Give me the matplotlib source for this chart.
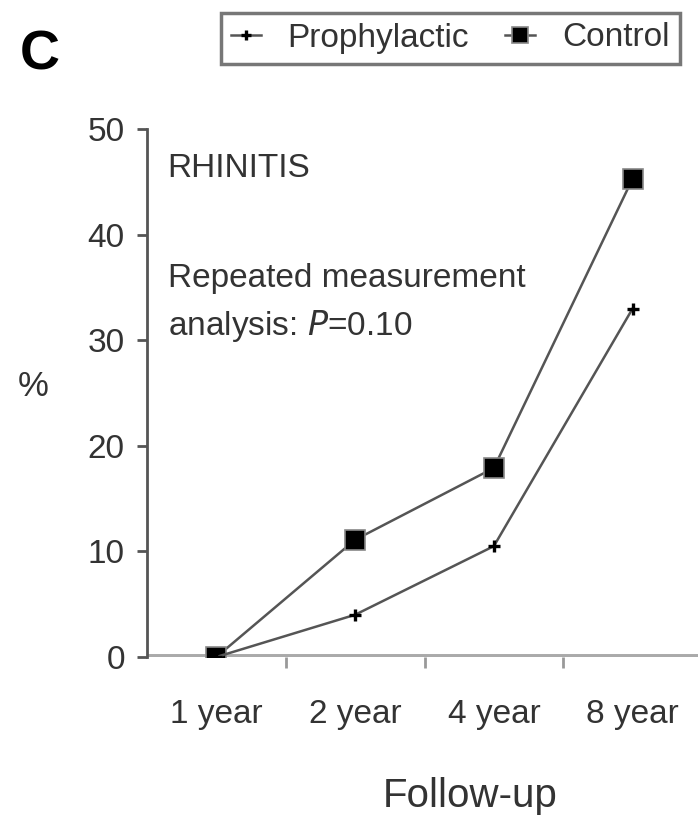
import matplotlib.pyplot as plt

plt.rcParams['font.family'] = ['Liberation Sans', 'DejaVu Sans']

categories = ["1 year", "2 year", "4 year", "8 year"]
prophylactic = [0.0, 4.0, 10.5, 33.0]
control = [0.0, 11.1, 17.9, 45.3]
yticks = [0, 10, 20, 30, 40, 50]

W, H = 698, 816
fig = plt.figure(figsize=(W / 100, H / 100), dpi=100)
ax = fig.add_axes([147 / W, 159 / H, 555 / W, 528 / H])


def fy(py):
    # pixel row from top -> figure fraction
    return 1 - py / H


x = list(range(len(categories)))
ax.plot(x, control, color='#555555', lw=1.8, marker='s', ms=15,
        mfc='black', mec='#888888', mew=1.2, label='Control', zorder=3)
ax.plot(x, prophylactic, color='#555555', lw=1.8, marker='+', ms=9,
        mec='black', mew=2.4, label='Prophylactic', zorder=3)

ax.axhline(0, color='#aaaaaa', lw=5, zorder=2)
ax.set_xlim(-0.5, 3.5)
ax.set_ylim(0, 50)
ax.set_yticks(yticks)
ax.set_yticklabels([str(v) for v in yticks], fontsize=24, color='#333333')
ax.set_xticks(x)
ax.set_xticklabels(categories, fontsize=24, color='#333333')
ax.set_xticks([0.5, 1.5, 2.5], minor=True)
ax.tick_params(axis='x', which='major', length=0, pad=30)
ax.tick_params(axis='x', which='minor', length=8, width=2, color='#999999', direction='out')
ax.tick_params(axis='y', length=7, width=2, color='#555555', direction='out', pad=9)

for s in ['top', 'right', 'bottom']:
    ax.spines[s].set_visible(False)
ax.spines['left'].set_color('#555555')
ax.spines['left'].set_linewidth(2)
ax.spines['left'].set_bounds(0, 50)

fig.text(167 / W, fy(177), 'RHINITIS', fontsize=24, color='#333333', va='baseline')
fig.text(168 / W, fy(287), 'Repeated measurement', fontsize=24, color='#333333', va='baseline')
fig.text(168 / W, fy(335), 'analysis: $\\it{P}$=0.10', fontsize=24, color='#333333', va='baseline')

fig.text(33 / W, fy(387), '%', fontsize=25, color='#333333', ha='center', va='center')
fig.text(470 / W, fy(796), 'Follow-up', fontsize=29, color='#333333', ha='center', va='center')
fig.text(40 / W, fy(55), 'C', fontsize=40, fontweight='bold', ha='center', va='center')

h, l = ax.get_legend_handles_labels()
leg = fig.legend(h[::-1], l[::-1], loc='center', bbox_to_anchor=(450 / W, fy(38)),
                 ncol=2, fontsize=24, frameon=True, fancybox=False, handlelength=0.9,
                 columnspacing=1.1, handletextpad=0.8, borderpad=0.3, markerscale=0.8)
leg.get_frame().set_edgecolor('#555555')
leg.get_frame().set_linewidth(2.5)
for t in leg.get_texts():
    t.set_color('#333333')

fig.savefig('out.png', dpi=100)
